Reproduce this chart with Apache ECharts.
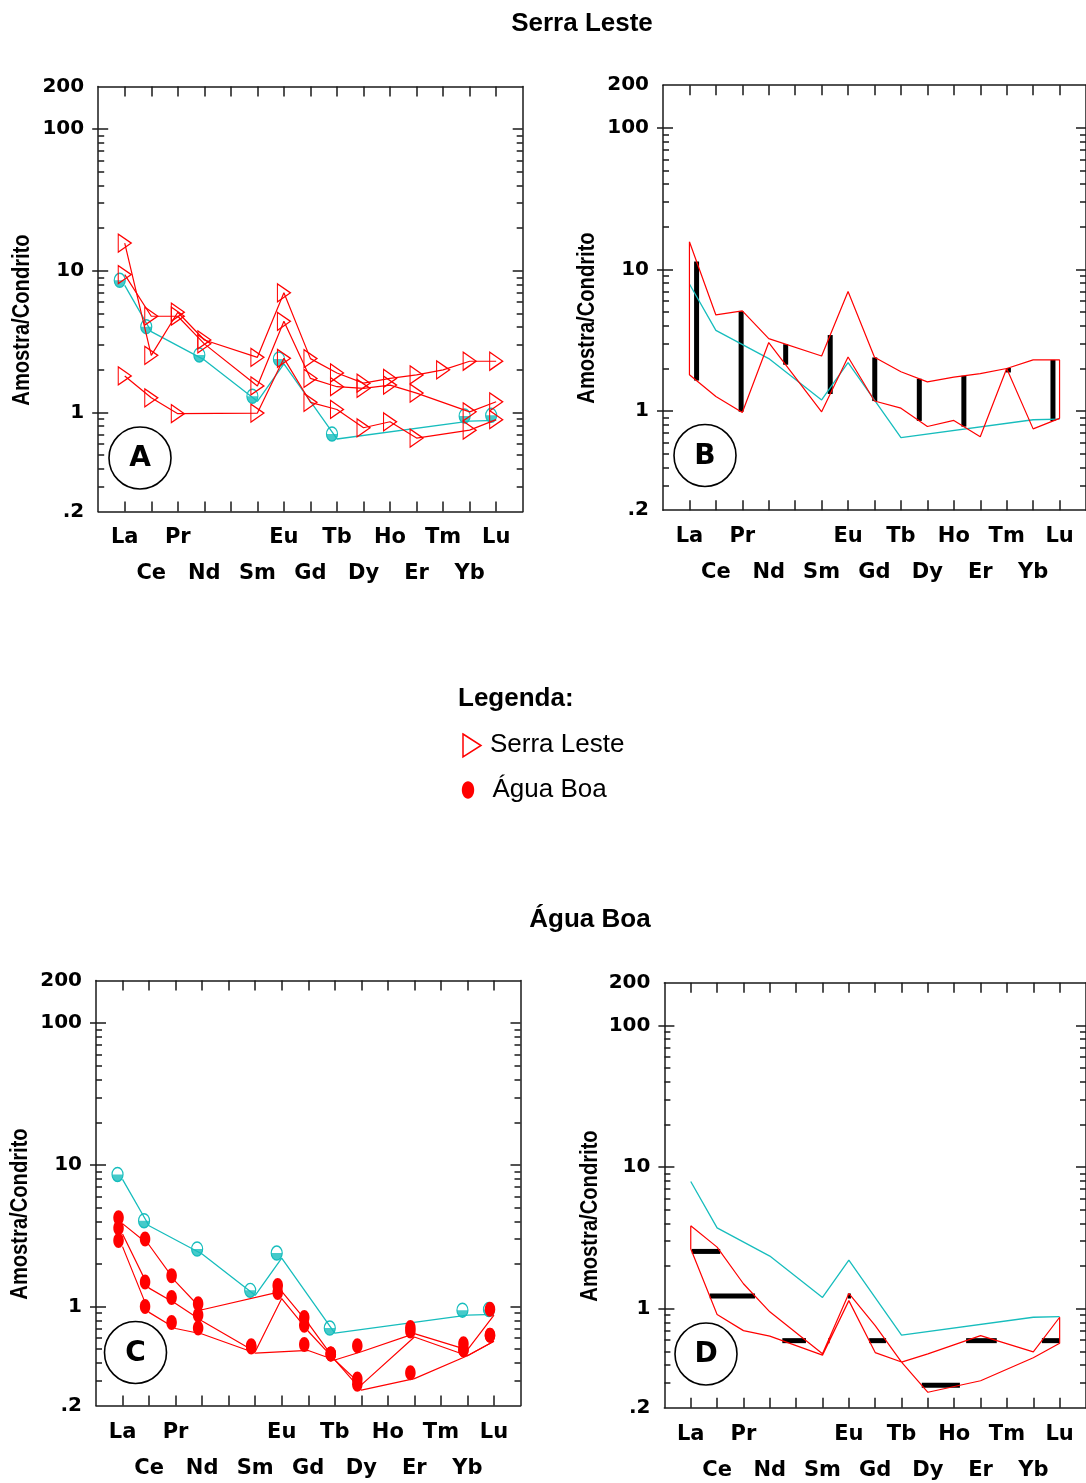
<!DOCTYPE html>
<html>
<head>
<meta charset="utf-8">
<script src="https://cdn.jsdelivr.net/npm/echarts@6.0.0/dist/echarts.min.js"></script>
<style>
html,body{margin:0;padding:0;background:#ffffff;}
#main{width:1086px;height:1483px;}
</style>
</head>
<body>
<div id="main"></div>
<script>
// ================= DATA =================
const ELEMENTS    = ['La','Ce','Pr','Nd','Pm','Sm','Eu','Gd','Tb','Dy','Ho','Er','Tm','Yb','Lu'];
const AXIS_LABELS = ['La','Ce','Pr','Nd','','Sm','Eu','Gd','Tb','Dy','Ho','Er','Tm','Yb','Lu'];
const ROW1_POS = [1,3,7,9,11,13,15];
const ROW2_POS = [2,4,6,8,10,12,14];
const Y_TICK_VALUES = [0.2, 1, 10, 100, 200];
const Y_TICK_TEXT   = ['.2', '1', '10', '100', '200'];

// reference pattern (cyan) shown in every panel
const REFERENCE     = [7.9, 3.72, null, 2.35, null, 1.20, 2.20, null, 0.65, null, null, null, null, 0.87, 0.88];

// Serra Leste samples (panel A; envelope in B)
const SERRA_LESTE_1 = [15.7, 2.53, 5.10, 3.25, null, 2.45, 7.00, 2.40, 1.90, 1.61, 1.74, 1.84, 2.00, 2.30, 2.30];
const SERRA_LESTE_2 = [9.40, 4.78, 4.78, 3.05, null, 1.54, 4.40, 1.74, 1.52, 1.48, 1.56, 1.37, null, 1.01, 1.19];
const SERRA_LESTE_3 = [1.81, 1.27, 0.98, null, null, 0.99, 2.41, 1.18, 1.05, 0.78, 0.86, 0.66, null, 0.75, 0.89];

// Água Boa samples (panel C; envelope in D)
const AGUA_BOA_1 = [3.85, 2.72, 1.50, 0.95, null, null, 1.28, 0.76, 0.42, 0.48, null, 0.645, null, 0.495, 0.87];
const AGUA_BOA_2 = [3.25, 1.35, 1.05, 0.79, null, 0.48, 1.14, 0.67, 0.42, 0.28, null, 0.61,  null, 0.45,  0.57];
const AGUA_BOA_3 = [2.65, 0.91, 0.70, 0.64, null, 0.47, null, 0.49, 0.42, 0.257, null, 0.31, null, 0.45,  0.57];

// ================= STYLE / LAYOUT =================
const W = 424.5, H = 425;
const PANELS = [
  {key:'A', left:98.2,  top:86.5},
  {key:'B', left:663,   top:85.2},
  {key:'C', left:96,    top:980.6},
  {key:'D', left:664.4, top:982.7}
];
const AXIS_COLOR = '#1a1a1a';
const RED = '#ff0000';
const CYAN = '#17bdbd';
const Y_FONT = {fontFamily:'DejaVu Sans', fontWeight:'bold', fontSize:20, color:'#000'};
const X_FONT = {fontFamily:'DejaVu Sans', fontWeight:'bold', fontSize:21, color:'#000'};
const HATCH_B = {start:1.27, step:1.685, count:9};          // vertical hatch positions (x units)
const HATCH_D = {start:0.288, factor:2.065, count:4};        // horizontal hatch levels

const MAJOR = [1, 10, 100];
const MINOR = [];
[0.1, 1, 10].forEach(d => { for (let m = 2; m <= 9; m++) { const v = +(m * d).toPrecision(3); if (v > 0.2 && v < 200) MINOR.push(v); } });

const ELLIPSE_PATH = 'path://M5,0 C7.76,0 10,2.91 10,6.5 C10,10.09 7.76,13 5,13 C2.24,13 0,10.09 0,6.5 C0,2.91 2.24,0 5,0 Z';
const HALF_PATH    = 'path://M0,0 L10,0 C10,3.59 7.76,6.5 5,6.5 C2.24,6.5 0,3.59 0,0 Z';
const TRI_PATH     = 'path://M0,0 L13,9 L0,18 Z';

// ================= HELPERS =================
function pts(arr) { const out = []; arr.forEach((v, k) => { if (v != null) out.push([k + 1, v]); }); return out; }
function envelope(list) {
  const up = [], lo = [];
  for (let k = 0; k < ELEMENTS.length; k++) {
    const vals = list.map(s => s[k]).filter(v => v != null);
    if (vals.length) { up.push([k + 1, Math.max(...vals)]); lo.push([k + 1, Math.min(...vals)]); }
  }
  return up.concat(lo.slice().reverse()).concat([up[0]]);
}
function vScan(poly, xs) {
  const segs = [];
  xs.forEach(X => {
    const ys = [];
    for (let i = 0; i < poly.length - 1; i++) {
      const [x1, v1] = poly[i], [x2, v2] = poly[i + 1];
      if (x1 === x2) continue;
      if ((x1 <= X && X < x2) || (x2 <= X && X < x1)) {
        const t = (X - x1) / (x2 - x1);
        ys.push(Math.log10(v1) + t * (Math.log10(v2) - Math.log10(v1)));
      }
    }
    ys.sort((a, b) => a - b);
    for (let j = 0; j + 1 < ys.length; j += 2) segs.push([X, Math.pow(10, ys[j]), X, Math.pow(10, ys[j + 1])]);
  });
  return segs;
}
function hScan(poly, levels) {
  const segs = [];
  levels.forEach(L0 => {
    const L = Math.log10(L0), xs = [];
    for (let i = 0; i < poly.length - 1; i++) {
      const [x1, v1] = poly[i], [x2, v2] = poly[i + 1];
      const y1 = Math.log10(v1), y2 = Math.log10(v2);
      if (y1 === y2) continue;
      if ((y1 <= L && L < y2) || (y2 <= L && L < y1)) {
        xs.push(x1 + (L - y1) * (x2 - x1) / (y2 - y1));
      }
    }
    xs.sort((a, b) => a - b);
    for (let j = 0; j + 1 < xs.length; j += 2) segs.push([xs[j], L0, xs[j + 1], L0]);
  });
  return segs;
}
function yFmt(v) {
  let best = 0;
  Y_TICK_VALUES.forEach((t, i) => { if (Math.abs(Math.log(v / t)) < Math.abs(Math.log(v / Y_TICK_VALUES[best]))) best = i; });
  return Y_TICK_TEXT[best];
}
function xFmt(v) { return AXIS_LABELS[Math.round(v) - 1] || ''; }

// ================= BUILD OPTION =================
const grid = [], xAxis = [], yAxis = [], series = [];
const lineAxis = {show:true, onZero:false, lineStyle:{color:AXIS_COLOR, width:1.5}};
const tickStyle = {color:AXIS_COLOR, width:1.5};
const TICK_POS = ELEMENTS.map((_, k) => k + 1);

PANELS.forEach((p, i) => {
  grid.push({left:p.left, top:p.top, width:W, height:H});
  const xi = xAxis.length;
  const xBase = {gridIndex:i, type:'value', min:0, max:16, splitLine:{show:false}};
  xAxis.push(Object.assign({}, xBase, {position:'bottom', axisLine:lineAxis,
    axisTick:{show:true, inside:true, length:10, customValues:TICK_POS, lineStyle:tickStyle},
    axisLabel:Object.assign({show:true, customValues:ROW1_POS, formatter:xFmt, margin:16}, X_FONT)}));
  xAxis.push(Object.assign({}, xBase, {position:'bottom', axisLine:{show:false, onZero:false}, axisTick:{show:false},
    axisLabel:Object.assign({show:true, customValues:ROW2_POS, formatter:xFmt, margin:52}, X_FONT)}));
  xAxis.push(Object.assign({}, xBase, {position:'top', axisLine:lineAxis,
    axisTick:{show:true, inside:true, length:10, customValues:TICK_POS, lineStyle:tickStyle},
    axisLabel:{show:false}}));

  const yi = yAxis.length;
  const yBase = {gridIndex:i, type:'log', logBase:10, min:0.2, max:200, splitLine:{show:false}};
  yAxis.push(Object.assign({}, yBase, {position:'left', axisLine:lineAxis,
    axisTick:{show:true, inside:true, length:10, customValues:MAJOR, lineStyle:tickStyle},
    axisLabel:Object.assign({show:true, customValues:Y_TICK_VALUES, formatter:yFmt, margin:14}, Y_FONT)}));
  yAxis.push(Object.assign({}, yBase, {position:'left', axisLine:{show:false, onZero:false},
    axisTick:{show:true, inside:false, length:6, customValues:MAJOR, lineStyle:tickStyle}, axisLabel:{show:false}}));
  yAxis.push(Object.assign({}, yBase, {position:'left', axisLine:{show:false, onZero:false},
    axisTick:{show:true, inside:true, length:6, customValues:MINOR, lineStyle:tickStyle}, axisLabel:{show:false}}));
  yAxis.push(Object.assign({}, yBase, {position:'right', axisLine:lineAxis,
    axisTick:{show:true, inside:true, length:10, customValues:MAJOR, lineStyle:tickStyle}, axisLabel:{show:false}}));
  yAxis.push(Object.assign({}, yBase, {position:'right', axisLine:{show:false, onZero:false},
    axisTick:{show:true, inside:true, length:6, customValues:MINOR, lineStyle:tickStyle}, axisLabel:{show:false}}));

  const ax = {xAxisIndex:xi, yAxisIndex:yi};
  const withMarkers = (p.key === 'A' || p.key === 'C');

  // reference (cyan)
  if (withMarkers) {
    series.push(Object.assign({type:'line', name:'Referência', data:pts(REFERENCE), z:2,
      lineStyle:{color:CYAN, width:1.3}, symbol:ELLIPSE_PATH, symbolSize:[11,14], symbolOffset:[-5,-5],
      itemStyle:{color:'rgba(255,255,255,0)', borderColor:CYAN, borderWidth:1.3}}, ax));
    series.push(Object.assign({type:'scatter', name:'Referência', data:pts(REFERENCE), z:3,
      symbol:HALF_PATH, symbolSize:[11,7], symbolOffset:[-5,-1.5], itemStyle:{color:CYAN}}, ax));
  } else {
    series.push(Object.assign({type:'line', name:'Referência', data:pts(REFERENCE), z:2,
      lineStyle:{color:CYAN, width:1.3}, symbol:'none'}, ax));
  }

  if (p.key === 'A') {
    [SERRA_LESTE_1, SERRA_LESTE_2, SERRA_LESTE_3].forEach(s => {
      series.push(Object.assign({type:'line', name:'Serra Leste', data:pts(s), z:4,
        lineStyle:{color:RED, width:1.2}, symbol:TRI_PATH, symbolSize:[13,18],
        itemStyle:{color:'rgba(255,255,255,0)', borderColor:RED, borderWidth:1.2}}, ax));
    });
  }
  if (p.key === 'C') {
    [AGUA_BOA_1, AGUA_BOA_2, AGUA_BOA_3].forEach(s => {
      series.push(Object.assign({type:'line', name:'Água Boa', data:pts(s), z:4,
        lineStyle:{color:RED, width:1.2}, symbol:ELLIPSE_PATH, symbolSize:[10.5,15], symbolOffset:[-4,-6],
        itemStyle:{color:RED, borderWidth:0}}, ax));
    });
  }
  if (p.key === 'B' || p.key === 'D') {
    const poly = p.key === 'B' ? envelope([SERRA_LESTE_1, SERRA_LESTE_2, SERRA_LESTE_3])
                               : envelope([AGUA_BOA_1, AGUA_BOA_2, AGUA_BOA_3]);
    let segs;
    if (p.key === 'B') {
      const xs = []; for (let k = 0; k < HATCH_B.count; k++) xs.push(HATCH_B.start + k * HATCH_B.step);
      segs = vScan(poly, xs);
    } else {
      const lv = []; for (let k = 0; k < HATCH_D.count; k++) lv.push(HATCH_D.start * Math.pow(HATCH_D.factor, k));
      segs = hScan(poly, lv);
    }
    series.push(Object.assign({type:'custom', name:'hatch', data:segs, z:1, silent:true,
      dimensions:['x1','y1','x2','y2'], encode:{x:[0,2], y:[1,3]},
      renderItem:(params, api) => {
        const a = api.coord([api.value(0), api.value(1)]);
        const b = api.coord([api.value(2), api.value(3)]);
        return {type:'line', shape:{x1:a[0], y1:a[1], x2:b[0], y2:b[1]}, style:{stroke:'#000', lineWidth:5, lineCap:'butt'}};
      }}, ax));
    series.push(Object.assign({type:'line', name:'envelope', data:poly, z:3,
      lineStyle:{color:RED, width:1.2}, symbol:'none'}, ax));
  }
});

// ================= ANNOTATIONS =================
const graphic = [];
function txt(x, y, text, font, opts) {
  return Object.assign({type:'text', x:x, y:y, silent:true,
    style:Object.assign({text:text, fill:'#000', align:'center', verticalAlign:'middle',
      textAlign:'center', textVerticalAlign:'middle'}, font)}, opts || {});
}
const TITLE_FONT = {fontFamily:'Liberation Sans', fontWeight:'bold', fontSize:26};
const LEG_FONT   = {fontFamily:'Liberation Sans', fontWeight:'normal', fontSize:26};
const YT_FONT    = {fontFamily:'Liberation Sans', fontWeight:'bold', fontSize:24};
const LETTER_FONT= {fontFamily:'DejaVu Sans', fontWeight:'bold', fontSize:28};

graphic.push(txt(582, 24, 'Serra Leste', TITLE_FONT));
graphic.push(txt(590, 920, 'Água Boa', TITLE_FONT));

[[22,320],[587,318],[20,1214],[590,1216]].forEach(c => {
  graphic.push(txt(c[0], c[1], 'Amostra/Condrito', YT_FONT, {rotation:Math.PI/2, scaleX:0.84}));
});
[['A',140,458],['B',705,455.5],['C',135.5,1352.5],['D',706,1354]].forEach(c => {
  graphic.push({type:'circle', silent:true, shape:{cx:c[1], cy:c[2], r:31}, style:{fill:'none', stroke:'#000', lineWidth:1.6}});
  graphic.push(txt(c[1], c[2] + 1, c[0], LETTER_FONT));
});

// legend
graphic.push({type:'text', silent:true, x:458, y:699, style:Object.assign({text:'Legenda:', fill:'#000', align:'left', textAlign:'left', verticalAlign:'middle', textVerticalAlign:'middle'}, TITLE_FONT)});
graphic.push({type:'polygon', silent:true, x:463, y:734, shape:{points:[[0,0],[18,11.5],[0,23]]}, style:{fill:'none', stroke:RED, lineWidth:1.5}});
graphic.push({type:'text', silent:true, x:490, y:745, style:Object.assign({text:'Serra Leste', fill:'#000', align:'left', textAlign:'left', verticalAlign:'middle', textVerticalAlign:'middle'}, LEG_FONT)});
graphic.push({type:'ellipse', silent:true, shape:{cx:468, cy:790, rx:6.2, ry:8.7}, style:{fill:RED}});
graphic.push({type:'text', silent:true, x:492.5, y:790, style:Object.assign({text:'Água Boa', fill:'#000', align:'left', textAlign:'left', verticalAlign:'middle', textVerticalAlign:'middle'}, LEG_FONT)});

const chart = echarts.init(document.getElementById('main'), null, {renderer:'canvas', width:1086, height:1483});
chart.setOption({
  animation:false,
  backgroundColor:'#ffffff',
  grid:grid, xAxis:xAxis, yAxis:yAxis, series:series, graphic:graphic
});
</script>
</body>
</html>
